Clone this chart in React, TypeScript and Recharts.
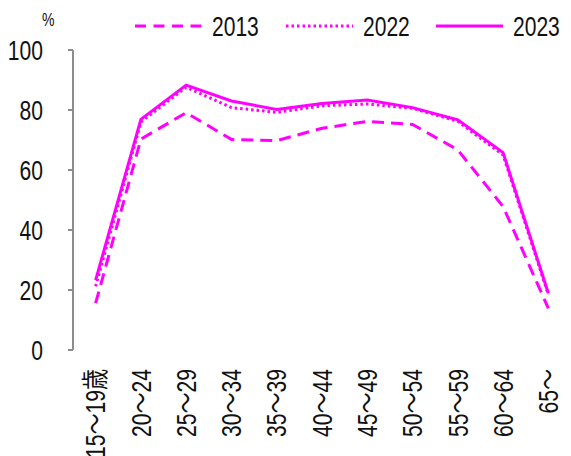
import React from 'react';
import { LineChart, Line, XAxis, YAxis } from 'recharts';

// Age groups along the horizontal axis
const categories = ['15～19歳', '20～24', '25～29', '30～34', '35～39', '40～44', '45～49', '50～54', '55～59', '60～64', '65～'];

// Participation rate (%) by age group
const r2013 = [15.6, 70.3, 79.1, 70.2, 69.8, 73.9, 76.2, 75.2, 66.7, 47.8, 13.9];
const r2022 = [21.2, 76.0, 87.6, 80.8, 79.2, 81.4, 82.0, 80.6, 76.2, 65.0, 18.4];
const r2023 = [23.3, 76.9, 88.3, 83.0, 80.2, 82.2, 83.3, 80.8, 76.7, 65.8, 18.9];

const yTicks = [0, 20, 40, 60, 80, 100];

const series = [
  { key: 'y2013', name: '2013', values: r2013, dash: '12 7', legendDash: '11 7.5' },
  { key: 'y2022', name: '2022', values: r2022, dash: '2.5 3', legendDash: '2.5 3' },
  { key: 'y2023', name: '2023', values: r2023, dash: undefined, legendDash: undefined },
];

const COLOR = '#FF00FF';
const AXIS = '#8c8c8c';
const TEXT = '#111';
const FONT = '"Liberation Sans", "Noto Sans CJK JP", sans-serif';
const FS = 27; // label font size
const SQUEEZE = 0.78; // horizontal condensing of label glyphs

// Category slots sit between integer boundaries: slot i is centred at i + 0.5
const data = categories.map((c, i) => {
  const row: Record<string, number | string> = { pos: i + 0.5, cat: c };
  series.forEach((s) => {
    row[s.key] = s.values[i];
  });
  return row;
});

const boundaryTicks = categories.map((_, i) => i).concat([categories.length]);
const centerTicks = categories.map((_, i) => i + 0.5);

const CategoryTick = (props: any) => {
  const { x, y, payload } = props;
  const idx = Math.round(payload.value - 0.5);
  return (
    <g transform={`translate(${x},${y}) rotate(-90) scale(${SQUEEZE},1)`}>
      <text x={-11 / SQUEEZE} y={0} dy="0.36em" textAnchor="end" fill={TEXT} fontSize={FS} fontFamily={FONT}>
        {categories[idx]}
      </text>
    </g>
  );
};

const ValueTick = (props: any) => {
  const { x, y, payload } = props;
  return (
    <g transform={`translate(${x},${y}) scale(${SQUEEZE},1)`}>
      <text x={0} y={0} dy="0.36em" textAnchor="end" fill={TEXT} fontSize={FS} fontFamily={FONT}>
        {payload.value}
      </text>
    </g>
  );
};

const legendLayout = [
  { lineX: 135, textX: 212 },
  { lineX: 286, textX: 363 },
  { lineX: 436, textX: 513 },
];

const LegendRow = () => (
  <svg width={571} height={50} style={{ position: 'absolute', left: 0, top: 0 }}>
    {series.map((s, i) => (
      <g key={s.key}>
        <line
          x1={legendLayout[i].lineX}
          y1={26}
          x2={legendLayout[i].lineX + 67}
          y2={26}
          stroke={COLOR}
          strokeWidth={3}
          strokeDasharray={s.legendDash}
        />
        <g transform={`translate(${legendLayout[i].textX},26) scale(${SQUEEZE},1)`}>
          <text x={0} y={0} dy="0.36em" fill={TEXT} fontSize={FS} fontFamily={FONT}>
            {s.name}
          </text>
        </g>
      </g>
    ))}
    <g transform={`translate(42,20) scale(${SQUEEZE},1)`}>
      <text x={0} y={0} dy="0.36em" fill={TEXT} fontSize={18} fontFamily={FONT}>
        %
      </text>
    </g>
  </svg>
);

export default function App() {
  return (
    <div style={{ position: 'absolute', left: 0, top: 0, width: 571, height: 456, background: '#fff', overflow: 'hidden' }}>
      <LineChart width={571} height={456} data={data} margin={{ top: 50, right: 0, left: 0, bottom: 0 }}>
        <XAxis
          xAxisId="grid"
          type="number"
          dataKey="pos"
          domain={[0, categories.length]}
          ticks={boundaryTicks}
          tick={false}
          tickLine={{ stroke: AXIS, strokeWidth: 2 }}
          axisLine={{ stroke: AXIS, strokeWidth: 2 }}
          tickSize={6}
          height={0}
          allowDataOverflow
        />
        <XAxis
          xAxisId="lbl"
          type="number"
          dataKey="pos"
          domain={[0, categories.length]}
          ticks={centerTicks}
          tick={<CategoryTick />}
          tickLine={false}
          axisLine={false}
          height={106}
          interval={0}
        />
        <YAxis
          type="number"
          domain={[0, 100]}
          ticks={yTicks}
          width={73}
          tickSize={5}
          tickMargin={25}
          tickLine={{ stroke: AXIS, strokeWidth: 2 }}
          axisLine={{ stroke: AXIS, strokeWidth: 2 }}
          tick={<ValueTick />}
        />
        {series.map((s) => (
          <Line
            key={s.key}
            xAxisId="lbl"
            dataKey={s.key}
            name={s.name}
            type="linear"
            stroke={COLOR}
            strokeWidth={3}
            strokeDasharray={s.dash}
            dot={false}
            activeDot={false}
            isAnimationActive={false}
          />
        ))}
      </LineChart>
      <LegendRow />
    </div>
  );
}
